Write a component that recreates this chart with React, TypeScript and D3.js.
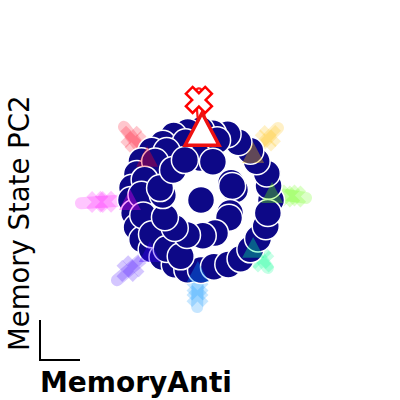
import React from "react";
import * as d3 from "d3";

// memory states, outer ring (PC1 / PC2)
const outerPc1 = [2.0, 1.93, 1.88, 1.59, 1.41, 1.07, 0.76, 0.34, 0.0, -0.38, -0.78, -1.09, -1.41, -1.7, -1.83, -1.97, -2.0, -1.91, -1.84, -1.68, -1.41, -1.1, -0.75, -0.39, 0.0, 0.37, 0.78, 1.13, 1.41, 1.63, 1.85, 1.91];
const outerPc2 = [0.0, 0.41, 0.76, 1.11, 1.41, 1.65, 1.88, 1.91, 2.0, 1.94, 1.84, 1.61, 1.41, 1.11, 0.74, 0.35, 0.0, -0.37, -0.78, -1.13, -1.41, -1.63, -1.85, -1.99, -2.0, -1.91, -1.84, -1.68, -1.41, -1.1, -0.75, -0.37];

// states lying just inside the outer ring
const midPc1 = [0.46, -0.44, -0.98, -1.31, -1.61, -1.7, -1.65, -1.4, -0.98, -0.58];
const midPc2 = [1.71, 1.65, 1.4, 1.1, 0.58, 0.15, -0.44, -0.98, -1.4, -1.61];

// inner ring
const innerPc1 = [-0.03, 0.34, 0.86, 0.97, 0.89, 0.83, 0.8, 0.4, 0.05, -0.4, -0.75, -1.03, -1.09, -1.17, -0.8, -0.46];
const innerPc2 = [1.2, 1.09, 0.49, 0.29, 0.4, -0.37, -0.51, -0.94, -1.02, -1.0, -0.8, -0.49, 0.14, 0.34, 0.86, 1.14];

// centre
const centrePc1 = [0.0];
const centrePc2 = [0.0];

// 8 directions, clockwise from the top
const dirColors = ["#ff0000", "#ffc000", "#60ff00", "#00ff90", "#0090ff", "#4000ff", "#ff00ff", "#ff0020"];
const stimPc1 = [0.03, 1.49, 2.03, 1.49, -0.09, -1.46, -2.03, -1.54];
const stimPc2 = [2.0, 1.34, 0.2, -1.37, -2.06, -1.49, 0.0, 1.23];
const endPc1 = [-0.06, 2.2, 3.0, 1.91, -0.11, -2.4, -3.43, -2.2];
const endPc2 = [3.09, 2.06, 0.06, -1.94, -3.06, -2.29, -0.09, 2.09];
const respAPc1 = [-0.06, 1.85, 2.52, 1.7, -0.1, -1.93, -2.72, -1.87];
const respAPc2 = [2.86, 1.7, 0.13, -1.66, -2.56, -1.89, -0.05, 1.66];
const respBPc1 = [-0.06, 1.97, 2.69, 1.78, -0.1, -2.1, -2.96, -1.99];
const respBPc2 = [2.86, 1.83, 0.1, -1.76, -2.74, -2.03, -0.06, 1.81];

const highlighted = 0;
const navy = "#0d0887";

const x = d3.scaleLinear().domain([-1, 1]).range([166, 236]);
const y = d3.scaleLinear().domain([-1, 1]).range([235, 165]);

// thick "X" marker
function xMarker(half: number) {
  const a = half * 1.414 / 1.35;
  const b = a * 0.35;
  const pts: [number, number][] = [
    [-b, -a], [b, -a], [b, -b], [a, -b], [a, b], [b, b],
    [b, a], [-b, a], [-b, b], [-a, b], [-a, -b], [-b, -b],
  ];
  const c = Math.SQRT1_2;
  return "M" + pts.map(([px, py]) => `${(px - py) * c},${(px + py) * c}`).join("L") + "Z";
}

function triangle(w: number) {
  const h = w / 2;
  return `M0,${-h}L${h},${h * 0.9}L${-h},${h * 0.9}Z`;
}

export default function App() {
  const dirs = dirColors.map((c, i) => ({
    c,
    sx: x(stimPc1[i]), sy: y(stimPc2[i]),
    ex: x(endPc1[i]), ey: y(endPc2[i]),
    marks: [[x(respAPc1[i]), y(respAPc2[i])], [x(respBPc1[i]), y(respBPc2[i])]],
  }));
  const others = dirs.filter((_, i) => i !== highlighted);
  const hi = dirs[highlighted];
  const states = [
    ...outerPc1.map((v, i) => [v, outerPc2[i]]),
    ...midPc1.map((v, i) => [v, midPc2[i]]),
    ...innerPc1.map((v, i) => [v, innerPc2[i]]),
    ...centrePc1.map((v, i) => [v, centrePc2[i]]),
  ];

  return (
    <svg width={400} height={400} style={{ position: "absolute", left: 0, top: 0 }} fontFamily="DejaVu Sans">
      <rect width={400} height={400} fill="white" />
      {/* trajectories */}
      {others.map((d, i) => (
        <line key={i} x1={d.sx} y1={d.sy} x2={d.ex} y2={d.ey} stroke={d.c} strokeWidth={12} strokeLinecap="round" opacity={0.22} />
      ))}
      {others.map((d, i) =>
        d.marks.map((m, j) => (
          <path key={`${i}-${j}`} d={xMarker(11)} transform={`translate(${m[0]},${m[1]})`} fill={d.c} opacity={0.22} />
        ))
      )}
      {/* memory states */}
      {states.map((p, i) => (
        <circle key={i} cx={x(p[0])} cy={y(p[1])} r={13.5} fill={navy} stroke="white" strokeWidth={1.5} />
      ))}
      {/* stimulus triangles */}
      {others.map((d, i) => (
        <path key={i} d={triangle(22)} transform={`translate(${d.sx},${d.sy})`} fill={d.c} opacity={0.35} />
      ))}
      {/* highlighted direction */}
      <line x1={hi.sx} y1={hi.sy} x2={hi.ex} y2={hi.ey} stroke="#ff0000" strokeWidth={9} strokeLinecap="round" opacity={0.9} />
      <line x1={hi.sx} y1={hi.sy} x2={hi.ex} y2={hi.ey} stroke="white" strokeWidth={4.5} strokeLinecap="round" />
      <path d={xMarker(13)} transform={`translate(${hi.marks[0][0]},${hi.marks[0][1]})`} fill="white" stroke="#ff0000" strokeWidth={2.5} strokeLinejoin="miter" />
      <path d={triangle(34)} transform={`translate(${hi.sx},${hi.sy})`} fill="white" stroke="#ee1111" strokeWidth={3.5} strokeLinejoin="miter" />
      {/* axes */}
      <path d="M40,320V360H80" fill="none" stroke="black" strokeWidth={2} />
      <text x={40} y={392} fontSize={28} fontWeight="bold">MemoryAnti</text>
      <text transform="translate(29,351) rotate(-90)" fontSize={27.5}>Memory State PC2</text>
    </svg>
  );
}
